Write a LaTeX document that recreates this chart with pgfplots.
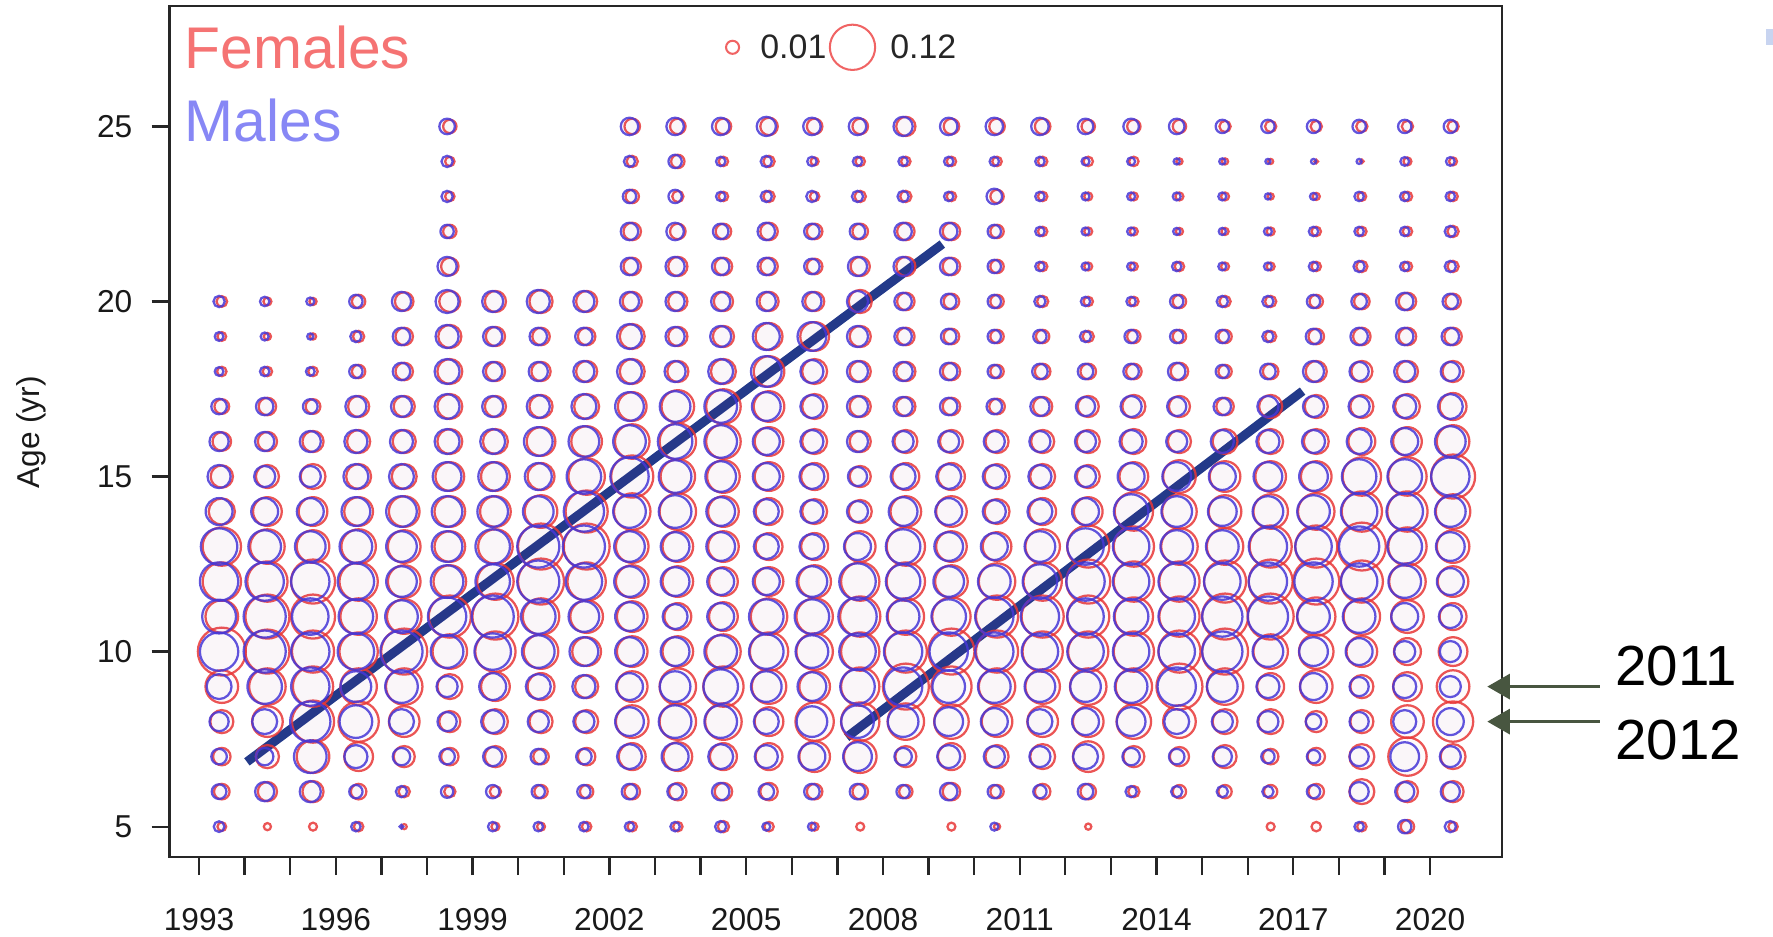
\documentclass[border=0pt]{standalone}
\usepackage{pgfplots}
\pgfplotsset{compat=1.18}
\usepackage{pgfplotstable}
\usepackage{fontspec}
\setmainfont{Liberation Sans}
\usetikzlibrary{arrows.meta}

\definecolor{fcol}{RGB}{232,55,55}
\definecolor{mcol}{RGB}{70,55,215}
\definecolor{navyline}{RGB}{35,58,138}
\definecolor{arrowcol}{RGB}{72,86,64}
\definecolor{femtext}{RGB}{245,115,115}
\definecolor{maletext}{RGB}{135,135,245}
\definecolor{legcirc}{RGB}{240,100,100}
\definecolor{cornerblue}{RGB}{200,212,240}

% proportions at age, females
\pgfplotstableread{
age 1993 1994 1995 1996 1997 1998 1999 2000 2001 2002 2003 2004 2005 2006 2007 2008 2009 2010 2011 2012 2013 2014 2015 2016 2017 2018 2019 2020
5 0.006 0.004 0.005 0.007 0.002 0 0.005 0.005 0.007 0.007 0.007 0.010 0.007 0.005 0.005 0 0.005 0.003 0 0.003 0 0 0 0.005 0.007 0.007 0.014 0.007
6 0.019 0.029 0.035 0.019 0.010 0.010 0.010 0.014 0.014 0.019 0.024 0.024 0.024 0.019 0.019 0.014 0.024 0.014 0.019 0.019 0.010 0.014 0.014 0.014 0.019 0.049 0.035 0.035
7 0.024 0.042 0.084 0.065 0.035 0.024 0.035 0.019 0.024 0.057 0.065 0.057 0.057 0.074 0.084 0.035 0.057 0.042 0.049 0.074 0.035 0.029 0.042 0.019 0.024 0.049 0.116 0.049
8 0.042 0.074 0.140 0.128 0.074 0.035 0.049 0.042 0.042 0.084 0.105 0.105 0.065 0.116 0.116 0.105 0.094 0.074 0.074 0.074 0.094 0.084 0.049 0.049 0.035 0.042 0.084 0.128
9 0.084 0.105 0.128 0.105 0.105 0.049 0.065 0.057 0.042 0.074 0.105 0.128 0.094 0.074 0.116 0.167 0.128 0.105 0.094 0.105 0.105 0.167 0.105 0.057 0.084 0.042 0.065 0.084
10 0.181 0.153 0.140 0.116 0.167 0.094 0.128 0.094 0.065 0.074 0.074 0.094 0.116 0.105 0.116 0.140 0.167 0.140 0.128 0.128 0.128 0.140 0.167 0.094 0.094 0.074 0.057 0.065
11 0.084 0.153 0.153 0.105 0.094 0.140 0.167 0.105 0.084 0.074 0.057 0.065 0.105 0.105 0.128 0.105 0.116 0.140 0.140 0.140 0.116 0.128 0.167 0.167 0.116 0.105 0.084 0.057
12 0.116 0.128 0.153 0.116 0.084 0.084 0.105 0.167 0.116 0.084 0.074 0.065 0.065 0.084 0.116 0.116 0.084 0.105 0.116 0.153 0.128 0.128 0.140 0.153 0.167 0.140 0.105 0.074
13 0.116 0.094 0.084 0.094 0.084 0.074 0.094 0.167 0.167 0.084 0.074 0.074 0.057 0.057 0.074 0.116 0.074 0.065 0.094 0.140 0.128 0.105 0.105 0.140 0.140 0.181 0.116 0.084
14 0.054 0.065 0.065 0.065 0.074 0.074 0.074 0.084 0.140 0.105 0.105 0.074 0.057 0.049 0.042 0.074 0.074 0.049 0.057 0.065 0.116 0.094 0.084 0.094 0.105 0.128 0.128 0.094
15 0.039 0.042 0.049 0.049 0.049 0.065 0.065 0.057 0.105 0.140 0.094 0.084 0.065 0.057 0.035 0.057 0.057 0.049 0.049 0.042 0.065 0.084 0.074 0.074 0.074 0.116 0.116 0.153
16 0.027 0.029 0.035 0.042 0.042 0.049 0.049 0.065 0.074 0.094 0.105 0.094 0.065 0.049 0.035 0.042 0.042 0.042 0.042 0.042 0.049 0.042 0.049 0.049 0.049 0.057 0.065 0.084
17 0.017 0.024 0.017 0.035 0.035 0.049 0.035 0.042 0.049 0.065 0.084 0.094 0.074 0.049 0.035 0.029 0.024 0.019 0.029 0.035 0.042 0.035 0.024 0.042 0.042 0.042 0.049 0.057
18 0.007 0.007 0.007 0.014 0.024 0.049 0.029 0.029 0.035 0.049 0.035 0.049 0.074 0.049 0.035 0.029 0.024 0.014 0.019 0.019 0.019 0.024 0.014 0.019 0.035 0.035 0.035 0.035
19 0.006 0.004 0.003 0.010 0.024 0.042 0.029 0.024 0.024 0.049 0.029 0.035 0.057 0.065 0.035 0.024 0.019 0.014 0.014 0.010 0.014 0.014 0.014 0.010 0.019 0.024 0.024 0.024
20 0.009 0.005 0.004 0.014 0.027 0.035 0.035 0.042 0.035 0.029 0.029 0.029 0.029 0.029 0.042 0.024 0.019 0.014 0.010 0.007 0.007 0.014 0.010 0.010 0.014 0.019 0.024 0.019
21 0 0 0 0 0 0.024 0 0 0 0.024 0.029 0.024 0.024 0.019 0.029 0.029 0.024 0.014 0.007 0.005 0.005 0.007 0.005 0.005 0.007 0.010 0.007 0.010
22 0 0 0 0 0 0.014 0 0 0 0.024 0.019 0.019 0.024 0.019 0.019 0.024 0.024 0.014 0.007 0.005 0.005 0.004 0.004 0.005 0.007 0.007 0.007 0.010
23 0 0 0 0 0 0.007 0 0 0 0.014 0.010 0.007 0.010 0.007 0.010 0.010 0.007 0.014 0.007 0.005 0.005 0.005 0.005 0.003 0.004 0.006 0.007 0.007
24 0 0 0 0 0 0.007 0 0 0 0.010 0.014 0.007 0.010 0.005 0.007 0.007 0.007 0.007 0.007 0.007 0.007 0.003 0.003 0.002 0.001 0.001 0.005 0.005
25 0 0 0 0 0 0.014 0 0 0 0.019 0.019 0.019 0.024 0.019 0.019 0.029 0.019 0.019 0.019 0.014 0.014 0.014 0.010 0.010 0.010 0.010 0.010 0.010
}\ftab

% proportions at age, males
\pgfplotstableread{
age 1993 1994 1995 1996 1997 1998 1999 2000 2001 2002 2003 2004 2005 2006 2007 2008 2009 2010 2011 2012 2013 2014 2015 2016 2017 2018 2019 2020
5 0.009 0 0 0.007 0.001 0 0.007 0.007 0.007 0.007 0.007 0.010 0.005 0.005 0 0 0 0.005 0 0 0 0 0 0 0 0.007 0.014 0.010
6 0.017 0.029 0.035 0.014 0.010 0.012 0.014 0.014 0.014 0.019 0.019 0.024 0.019 0.019 0.019 0.014 0.024 0.014 0.014 0.019 0.010 0.010 0.010 0.010 0.014 0.029 0.029 0.029
7 0.019 0.024 0.084 0.042 0.024 0.019 0.029 0.019 0.019 0.049 0.057 0.049 0.042 0.057 0.065 0.024 0.042 0.035 0.035 0.049 0.024 0.019 0.029 0.014 0.014 0.029 0.065 0.035
8 0.029 0.049 0.128 0.084 0.049 0.029 0.042 0.035 0.035 0.065 0.084 0.084 0.049 0.074 0.084 0.074 0.065 0.057 0.049 0.057 0.065 0.049 0.035 0.035 0.019 0.029 0.042 0.057
9 0.049 0.094 0.116 0.074 0.084 0.035 0.057 0.049 0.042 0.057 0.074 0.094 0.074 0.065 0.094 0.116 0.084 0.084 0.074 0.074 0.084 0.116 0.074 0.042 0.057 0.029 0.042 0.035
10 0.116 0.140 0.116 0.105 0.140 0.084 0.105 0.084 0.065 0.065 0.065 0.084 0.094 0.084 0.105 0.116 0.116 0.116 0.105 0.105 0.105 0.105 0.128 0.074 0.065 0.057 0.035 0.035
11 0.090 0.140 0.105 0.094 0.084 0.116 0.140 0.094 0.074 0.065 0.049 0.057 0.094 0.094 0.116 0.084 0.094 0.116 0.116 0.105 0.094 0.105 0.128 0.128 0.084 0.084 0.057 0.042
12 0.116 0.116 0.116 0.105 0.074 0.084 0.094 0.140 0.105 0.074 0.065 0.057 0.057 0.074 0.105 0.094 0.074 0.084 0.094 0.116 0.105 0.105 0.105 0.116 0.116 0.105 0.084 0.057
13 0.105 0.084 0.074 0.084 0.074 0.074 0.094 0.140 0.140 0.074 0.065 0.065 0.049 0.049 0.057 0.094 0.065 0.057 0.074 0.105 0.105 0.084 0.084 0.116 0.105 0.128 0.094 0.065
14 0.057 0.057 0.057 0.065 0.074 0.074 0.074 0.074 0.128 0.084 0.084 0.065 0.049 0.042 0.035 0.065 0.057 0.042 0.049 0.057 0.094 0.074 0.065 0.074 0.084 0.105 0.105 0.074
15 0.042 0.035 0.035 0.049 0.049 0.065 0.065 0.057 0.094 0.116 0.084 0.074 0.057 0.049 0.029 0.049 0.049 0.042 0.042 0.035 0.057 0.065 0.057 0.065 0.065 0.094 0.094 0.116
16 0.029 0.029 0.035 0.042 0.042 0.049 0.049 0.065 0.074 0.084 0.094 0.084 0.057 0.042 0.035 0.035 0.035 0.035 0.035 0.035 0.042 0.035 0.042 0.042 0.042 0.049 0.057 0.074
17 0.019 0.024 0.017 0.035 0.035 0.049 0.035 0.042 0.049 0.065 0.074 0.084 0.065 0.042 0.035 0.029 0.024 0.019 0.029 0.029 0.035 0.029 0.024 0.035 0.035 0.035 0.042 0.049
18 0.006 0.007 0.006 0.014 0.024 0.049 0.029 0.029 0.035 0.049 0.035 0.049 0.074 0.042 0.035 0.029 0.024 0.014 0.019 0.019 0.019 0.024 0.014 0.019 0.035 0.029 0.035 0.029
19 0.006 0.005 0.003 0.010 0.024 0.042 0.029 0.024 0.024 0.049 0.029 0.035 0.057 0.065 0.035 0.024 0.019 0.014 0.014 0.010 0.014 0.014 0.014 0.010 0.019 0.024 0.024 0.024
20 0.010 0.007 0.005 0.014 0.029 0.042 0.035 0.042 0.035 0.029 0.029 0.029 0.029 0.029 0.035 0.024 0.019 0.014 0.010 0.007 0.007 0.014 0.010 0.010 0.014 0.019 0.024 0.019
21 0 0 0 0 0 0.029 0 0 0 0.024 0.029 0.024 0.024 0.019 0.029 0.029 0.024 0.014 0.007 0.005 0.005 0.007 0.005 0.005 0.007 0.010 0.007 0.010
22 0 0 0 0 0 0.014 0 0 0 0.024 0.024 0.019 0.024 0.019 0.019 0.024 0.024 0.014 0.007 0.005 0.005 0.004 0.004 0.005 0.007 0.007 0.007 0.010
23 0 0 0 0 0 0.010 0 0 0 0.014 0.014 0.007 0.010 0.010 0.010 0.010 0.007 0.019 0.007 0.005 0.005 0.005 0.005 0.003 0.004 0.007 0.007 0.007
24 0 0 0 0 0 0.010 0 0 0 0.010 0.014 0.007 0.010 0.007 0.007 0.007 0.007 0.007 0.007 0.005 0.005 0.003 0.003 0.002 0.002 0.002 0.006 0.006
25 0 0 0 0 0 0.019 0 0 0 0.024 0.024 0.024 0.029 0.024 0.024 0.029 0.024 0.024 0.024 0.019 0.019 0.019 0.014 0.014 0.014 0.014 0.014 0.014
}\mtab

% size legend
\pgfplotstableread{
x y p
2004.70 27.26 0.01
2007.33 27.26 0.12
}\legtab

\begin{document}
\begin{tikzpicture}
\path[use as bounding box] (-75pt,-35pt) rectangle (709pt,379pt);
\begin{axis}[
  scale only axis, width=589pt, height=376.5pt,
  at={(0pt,0pt)}, anchor=south west,
  xmin=1992.355, xmax=2021.565, ymin=4.13, ymax=28.45,
  axis line style={line width=1pt, black!85},
  tick align=outside, xtick pos=bottom, ytick pos=left,
  major tick length=8pt,
  tick style={line width=1pt, black!85},
  xtick={1993,...,2020},
  xticklabels={1993,,,1996,,,1999,,,2002,,,2005,,,2008,,,2011,,,2014,,,2017,,,2020},
  ytick={5,10,15,20,25},
  ticklabel style={font=\fontsize{14}{16}\selectfont, text=black!90},
  xticklabel style={yshift=-11pt},
  yticklabel style={xshift=-5pt},
  /pgf/number format/assume math mode=true,
  clip=false,
]
% females
\pgfplotsinvokeforeach{1993,...,2020}{
  \addplot[scatter, only marks, mark=*, point meta=\thisrow{#1},
    scatter/use mapped color={draw=fcol, fill=fcol, fill opacity=0.025, draw opacity=0.85, line width=1pt},
    visualization depends on={24.9*sqrt(\thisrow{#1}) \as \rr},
    scatter/@pre marker code/.append style={/tikz/mark size=\rr},
    restrict expr to domain={\thisrow{#1}}{0.0005:1}]
    table[x expr=#1+0.50, y=age] {\ftab};
}
% males
\pgfplotsinvokeforeach{1993,...,2020}{
  \addplot[scatter, only marks, mark=*, point meta=\thisrow{#1},
    scatter/use mapped color={draw=mcol, fill=mcol, fill opacity=0.025, draw opacity=0.85, line width=1pt},
    visualization depends on={24.9*sqrt(\thisrow{#1}) \as \rr},
    scatter/@pre marker code/.append style={/tikz/mark size=\rr},
    restrict expr to domain={\thisrow{#1}}{0.0005:1}]
    table[x expr=#1+0.44, y=age] {\mtab};
}
% size legend
\addplot[scatter, only marks, mark=o, point meta=\thisrow{p},
    scatter/use mapped color={draw=legcirc, line width=0.9pt},
    visualization depends on={28.9*sqrt(\thisrow{p}) \as \rr},
    scatter/@pre marker code/.append style={/tikz/mark size=\rr}]
    table[x=x, y=y] {\legtab};
% cohort lines
\addplot[navyline, line width=4pt, line cap=butt, no marks] coordinates {(1994.05,6.85) (2009.3,21.64)};
\addplot[navyline, line width=4pt, line cap=butt, no marks] coordinates {(2007.2,7.55) (2017.2,17.44)};

\node[anchor=west, inner sep=0pt, text=femtext, font=\fontsize{26}{30}\selectfont] at (axis cs:1992.68,27.26) {Females};
\node[anchor=west, inner sep=0pt, text=maletext, font=\fontsize{26}{30}\selectfont] at (axis cs:1992.68,25.16) {Males};
\node[anchor=west, inner sep=0pt, font=\fontsize{15}{18}\selectfont, text=black!85] at (axis cs:2005.30,27.26) {0.01};
\node[anchor=west, inner sep=0pt, font=\fontsize{15}{18}\selectfont, text=black!85] at (axis cs:2008.15,27.26) {0.12};
\node[rotate=90, font=\fontsize{14}{16}\selectfont, text=black!90] at (axis cs:1989.33,16.26) {Age (yr)};

\draw[arrowcol, line width=1.6pt, -{Triangle[length=10pt,width=11pt]}] (axis cs:2023.72,9) -- (axis cs:2021.25,9);
\draw[arrowcol, line width=1.6pt, -{Triangle[length=10pt,width=11pt]}] (axis cs:2023.72,8) -- (axis cs:2021.25,8);
\node[anchor=west, inner sep=0pt, font=\fontsize{25}{30}\selectfont] at (axis cs:2024.05,9.58) {2011};
\node[anchor=west, inner sep=0pt, font=\fontsize{25}{30}\selectfont] at (axis cs:2024.05,7.48) {2012};
\end{axis}
\fill[cornerblue] (706pt,359pt) rectangle (709pt,366pt);
\end{tikzpicture}
\end{document}
